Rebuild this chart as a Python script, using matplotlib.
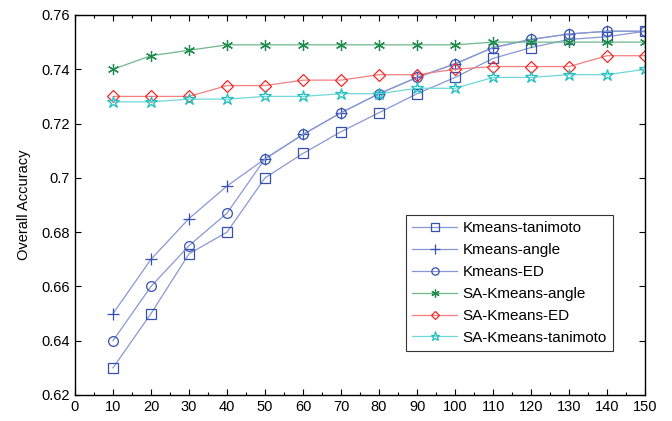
import matplotlib
matplotlib.use('Agg')
import matplotlib.pyplot as plt
from matplotlib.ticker import MultipleLocator, FormatStrFormatter

plt.rcParams['font.family'] = ['Liberation Sans', 'DejaVu Sans']

# cluster counts on the x axis
x_vals = [10, 20, 30, 40, 50, 60, 70, 80, 90, 100, 110, 120, 130, 140, 150]

kmeans_tanimoto = [0.630, 0.650, 0.672, 0.680, 0.700, 0.709, 0.717, 0.724,
                   0.731, 0.737, 0.744, 0.748, 0.751, 0.752, 0.754]
kmeans_angle = [0.650, 0.670, 0.685, 0.697, 0.707, 0.716, 0.724, 0.731,
                0.737, 0.742, 0.748, 0.751, 0.753, 0.754, 0.754]
kmeans_ed = [0.640, 0.660, 0.675, 0.687, 0.707, 0.716, 0.724, 0.731,
             0.737, 0.742, 0.748, 0.751, 0.753, 0.754, 0.754]
sa_kmeans_angle = [0.740, 0.745, 0.747, 0.749, 0.749, 0.749, 0.749, 0.749,
                   0.749, 0.749, 0.750, 0.750, 0.750, 0.750, 0.750]
sa_kmeans_ed = [0.730, 0.730, 0.730, 0.734, 0.734, 0.736, 0.736, 0.738,
                0.738, 0.740, 0.741, 0.741, 0.741, 0.745, 0.745]
sa_kmeans_tanimoto = [0.728, 0.728, 0.729, 0.729, 0.730, 0.730, 0.731, 0.731,
                      0.733, 0.733, 0.737, 0.737, 0.738, 0.738, 0.740]

series = [
    ('Kmeans-tanimoto', kmeans_tanimoto, 's', '#3550b0', '#8898d4', 7),
    ('Kmeans-angle', kmeans_angle, '+', '#3550b0', '#8898d4', 9),
    ('Kmeans-ED', kmeans_ed, 'o', '#3550b0', '#8898d4', 7),
    ('SA-Kmeans-angle', sa_kmeans_angle, (6, 2, 0), '#1f8a4c', '#6fb88a', 8),
    ('SA-Kmeans-ED', sa_kmeans_ed, 'D', '#f02828', '#f28080', 6),
    ('SA-Kmeans-tanimoto', sa_kmeans_tanimoto, '*', '#20c0c0', '#70d8d8', 9),
]

fig = plt.figure(figsize=(6.72, 4.21), dpi=100)
ax = fig.add_axes([0.1116, 0.0618, 0.8484, 0.9026])

for label, vals, mk, mcol, lcol, ms in series:
    ax.plot(x_vals, vals, color=lcol, linewidth=0.9, marker=mk, markersize=ms,
            markerfacecolor='none', markeredgecolor=mcol, markeredgewidth=0.9,
            label=label)

ax.set_xlim(0, 150)
ax.set_ylim(0.62, 0.76)
ax.xaxis.set_major_locator(MultipleLocator(10))
ax.xaxis.set_minor_locator(MultipleLocator(5))
ax.yaxis.set_major_locator(MultipleLocator(0.02))
ax.yaxis.set_major_formatter(FormatStrFormatter('%g'))
ax.tick_params(which='both', direction='in', top=True, right=True,
               labelsize=10.5, width=0.8)
ax.tick_params(which='major', length=4)
ax.tick_params(which='minor', length=2)
for sp in ax.spines.values():
    sp.set_linewidth(1.0)

ax.set_ylabel('Overall Accuracy', fontsize=10.5, labelpad=8)

leg = ax.legend(loc='lower right', bbox_to_anchor=(0.944, 0.116), fontsize=11,
                frameon=True, fancybox=False, edgecolor='black',
                handlelength=3.0, borderpad=0.4, labelspacing=0.52,
                handletextpad=0.35, borderaxespad=0, markerscale=0.75)
leg.get_frame().set_linewidth(0.8)

fig.savefig('out.png', dpi=100)
